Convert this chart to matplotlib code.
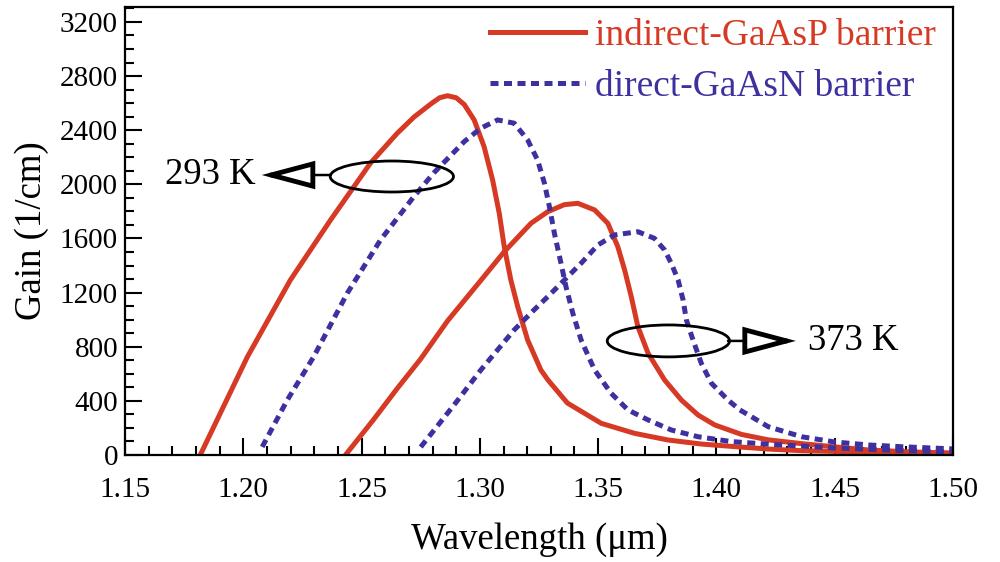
import matplotlib
matplotlib.use("Agg")
import matplotlib.pyplot as plt
from matplotlib.patches import Ellipse
from matplotlib.ticker import MultipleLocator

plt.rcParams['font.family'] = ['Liberation Serif', 'DejaVu Serif']

RED = '#d63a24'
BLUE = '#3d31a0'

# indirect-GaAsP barrier, 293 K
red_293_x = [1.1818, 1.2017, 1.2199, 1.2369, 1.2538, 1.2651, 1.2722, 1.2797, 1.2830, 1.2863,
             1.2900, 1.2934, 1.2976, 1.3018, 1.3054, 1.3082, 1.3103, 1.3131, 1.3160, 1.3202,
             1.3258, 1.3288, 1.3370, 1.3513, 1.3654, 1.3795, 1.3936, 1.4076, 1.4219, 1.4360,
             1.4700, 1.5000]
red_293_y = [0, 724, 1293, 1737, 2158, 2378, 2498, 2600, 2640, 2655,
             2640, 2590, 2476, 2278, 2032, 1786, 1540, 1293, 1096, 850,
             628, 554, 384, 234, 160, 111, 81, 62, 44, 32,
             20, 12]

# indirect-GaAsP barrier, 373 K
red_373_x = [1.2432, 1.2550, 1.2650, 1.2750, 1.2863, 1.3004, 1.3102, 1.3216, 1.3287, 1.3357,
             1.3414, 1.3485, 1.3541, 1.3583, 1.3612, 1.3640, 1.3668, 1.3711, 1.3781, 1.3852,
             1.3922, 1.3993, 1.4106, 1.4219, 1.4360, 1.4500, 1.4643, 1.4800, 1.5000]
red_373_y = [0, 260, 490, 710, 990, 1290, 1500, 1712, 1798, 1850,
             1860, 1811, 1712, 1540, 1367, 1170, 948, 752, 554, 406,
             296, 222, 152, 112, 84, 60, 37, 24, 14]

# direct-GaAsN barrier, 293 K
blue_293_x = [1.2080, 1.2186, 1.2297, 1.2440, 1.2580, 1.2720, 1.2805, 1.2934, 1.3004, 1.3075,
              1.3145, 1.3202, 1.3244, 1.3273, 1.3294, 1.3315, 1.3343, 1.3364, 1.3393, 1.3428,
              1.3485, 1.3555, 1.3626, 1.3711, 1.3809, 1.3922, 1.4064, 1.4219, 1.4500, 1.4750,
              1.5000]
blue_293_y = [60, 406, 724, 1197, 1589, 1907, 2084, 2316, 2415, 2476,
              2452, 2328, 2180, 2008, 1835, 1639, 1417, 1244, 1047, 850,
              628, 456, 333, 259, 185, 135, 99, 80, 52, 35,
              22]

# direct-GaAsN barrier, 373 K
blue_373_x = [1.2750, 1.2863, 1.2907, 1.3004, 1.3145, 1.3229, 1.3287, 1.3428, 1.3499, 1.3569,
              1.3668, 1.3738, 1.3781, 1.3809, 1.3838, 1.3859, 1.3873, 1.3901, 1.3936, 1.3979,
              1.4049, 1.4099, 1.4148, 1.4219, 1.4360, 1.4500, 1.4644, 1.4784, 1.5000]
blue_373_y = [59, 308, 406, 628, 924, 1072, 1170, 1417, 1552, 1626,
              1650, 1601, 1515, 1417, 1293, 1146, 998, 850, 678, 530,
              406, 333, 283, 209, 135, 96, 74, 61, 45]

x_ticks = [1.15, 1.20, 1.25, 1.30, 1.35, 1.40, 1.45, 1.50]
y_ticks = [0, 400, 800, 1200, 1600, 2000, 2400, 2800, 3200]

fig = plt.figure(figsize=(10, 5.62), dpi=100)
ax = fig.add_axes([0.125, 0.1904, 0.828, 0.797])

ax.plot(red_293_x, red_293_y, color=RED, lw=3.6, label='indirect-GaAsP barrier')
ax.plot(red_373_x, red_373_y, color=RED, lw=3.6)
ax.plot(blue_293_x, blue_293_y, color=BLUE, lw=3.6, ls=(0, (1.6, 1.1)), label='direct-GaAsN barrier')
ax.plot(blue_373_x, blue_373_y, color=BLUE, lw=3.6, ls=(0, (1.6, 1.1)))

ax.set_xlim(1.15, 1.50)
ax.set_ylim(0, 3310)
ax.set_xticks(x_ticks)
ax.set_xticklabels(['%.2f' % v for v in x_ticks])
ax.set_yticks(y_ticks)
ax.xaxis.set_minor_locator(MultipleLocator(0.01))
ax.yaxis.set_minor_locator(MultipleLocator(100))
ax.tick_params(which='both', direction='in', top=False, right=False, width=1.5)
ax.tick_params(which='major', length=12, labelsize=21)
ax.tick_params(which='minor', length=6.5)
ax.tick_params(axis='x', which='major', pad=16)
ax.tick_params(axis='y', which='major', pad=5)
for s in ax.spines.values():
    s.set_linewidth(1.6)

ax.set_xlabel('Wavelength (μm)', fontsize=26.5, labelpad=14)
ax.set_ylabel('Gain (1/cm)', fontsize=26.5, labelpad=8)

leg = ax.legend(loc='upper right', bbox_to_anchor=(0.979, 0.975), frameon=False, fontsize=27,
                handlelength=2.53, handletextpad=0.27, labelspacing=0.44, borderpad=0,
                borderaxespad=0, labelcolor='linecolor')

# temperature markers
ax.add_patch(Ellipse((1.2628, 2058), 0.0521, 229, fill=False, ec='black', lw=2, zorder=5))
ax.add_patch(Ellipse((1.3797, 843), 0.0517, 236, fill=False, ec='black', lw=2, zorder=5))

head = dict(arrowstyle='-|>,head_length=1.5,head_width=0.4', fc='white', ec='black',
            lw=3.5, mutation_scale=20, shrinkA=0, shrinkB=0, joinstyle='miter')
shaft = dict(arrowstyle='-', color='black', lw=1.8, shrinkA=0, shrinkB=0)

ax.annotate('', xy=(1.2240, 2069), xytext=(1.2370, 2069), arrowprops=shaft, zorder=6)
ax.annotate('', xy=(1.2078, 2069), xytext=(1.2270, 2069), arrowprops=head, zorder=6)
ax.annotate('293 K', xy=(1.2052, 2069), fontsize=26.5, ha='right', va='center')

ax.annotate('', xy=(1.4049, 843), xytext=(1.4180, 843), arrowprops=shaft, zorder=6)
ax.annotate('', xy=(1.4336, 843), xytext=(1.4145, 843), arrowprops=head, zorder=6)
ax.annotate('373 K', xy=(1.4385, 843), fontsize=26.5, ha='left', va='center')

fig.savefig('out.png', dpi=100)
